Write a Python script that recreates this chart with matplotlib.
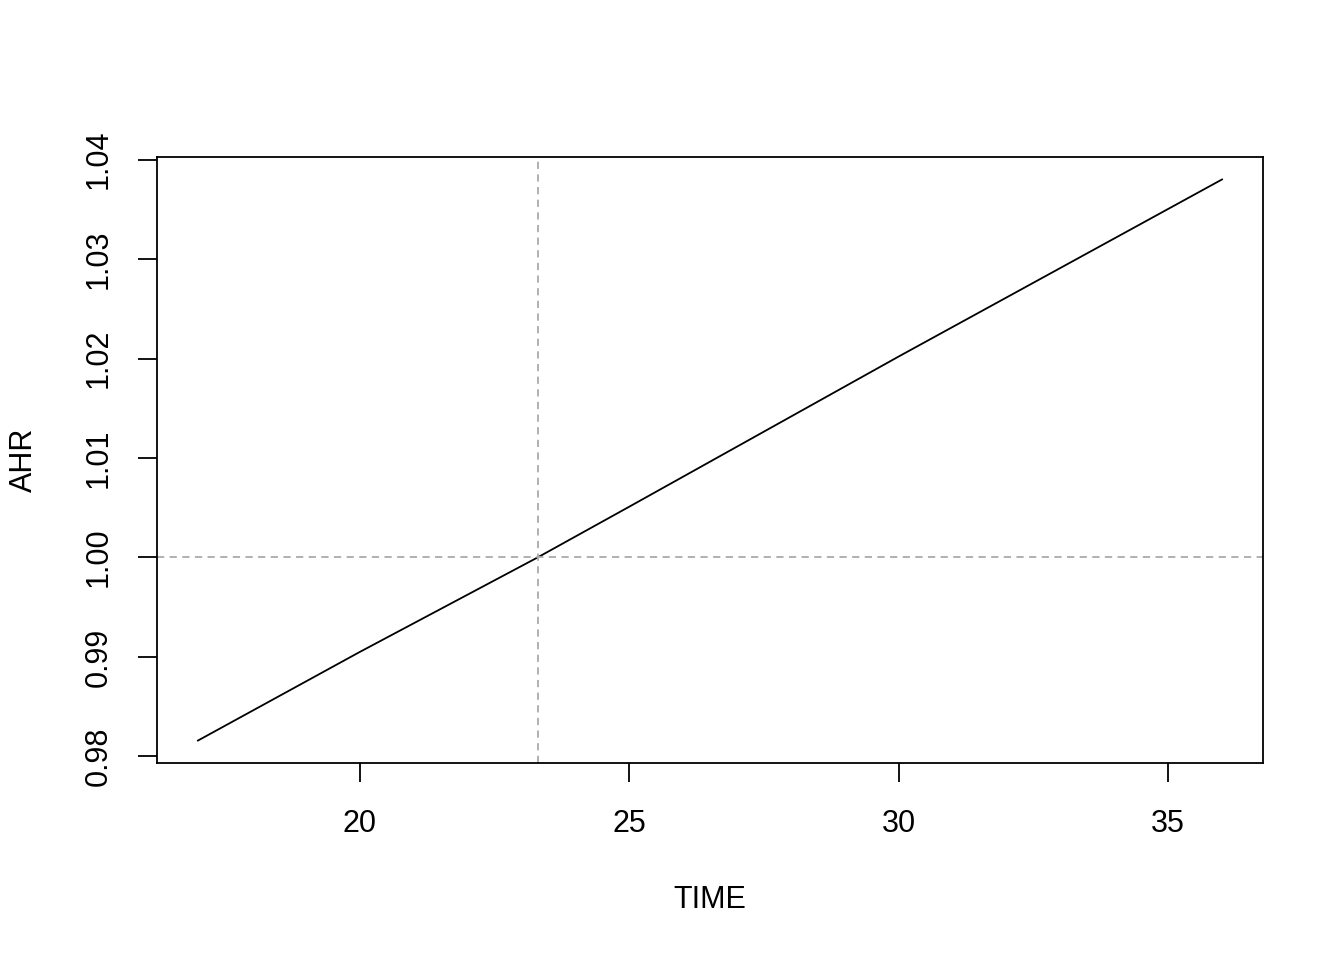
import matplotlib
matplotlib.use("Agg")
import matplotlib.pyplot as plt

# AHR over time
time = [17, 20, 23.3, 25, 30, 36]
ahr = [0.9816, 0.9905, 1.0, 1.0051, 1.0202, 1.0380]
ref_time = 23.3
ref_ahr = 1.0
x_ticks = [20, 25, 30, 35]
y_ticks = [0.98, 0.99, 1.00, 1.01, 1.02, 1.03, 1.04]
y_labels = ["0.98", "0.99", "1.00", "1.01", "1.02", "1.03", "1.04"]

plt.rcParams["font.family"] = ["Liberation Sans", "DejaVu Sans"]

fig = plt.figure(figsize=(13.44, 9.6), dpi=100)
ax = fig.add_axes([157 / 1344, 1 - 763 / 960, (1263 - 157) / 1344, (763 - 157) / 960])

ax.plot(time, ahr, color="black", lw=1.3)
ax.axvline(ref_time, color="#aaaaaa", lw=1.3, ls=(0, (4, 3)))
ax.axhline(ref_ahr, color="#aaaaaa", lw=1.3, ls=(0, (4, 3)))

# R-style 4% padding
xr = max(time) - min(time)
yr = max(ahr) - min(ahr)
ax.set_xlim(min(time) - 0.04 * xr, max(time) + 0.04 * xr)
ax.set_ylim(min(ahr) - 0.04 * yr, max(ahr) + 0.04 * yr)

ax.set_xticks(x_ticks)
ax.set_xticklabels([str(t) for t in x_ticks])
ax.set_yticks(y_ticks)
ax.set_yticklabels(y_labels, rotation=90, va="center")
ax.tick_params(axis="x", length=14, width=1.3, labelsize=22, pad=19)
ax.tick_params(axis="y", length=14, width=1.3, labelsize=22, pad=17)
for s in ax.spines.values():
    s.set_linewidth(1.3)

fig.text(710 / 1344, 1 - 900 / 960, "TIME", fontsize=22, ha="center", va="center")
fig.text(24 / 1344, 1 - 460 / 960, "AHR", fontsize=22, ha="center", va="center", rotation=90)

fig.savefig("out.png", dpi=100)
